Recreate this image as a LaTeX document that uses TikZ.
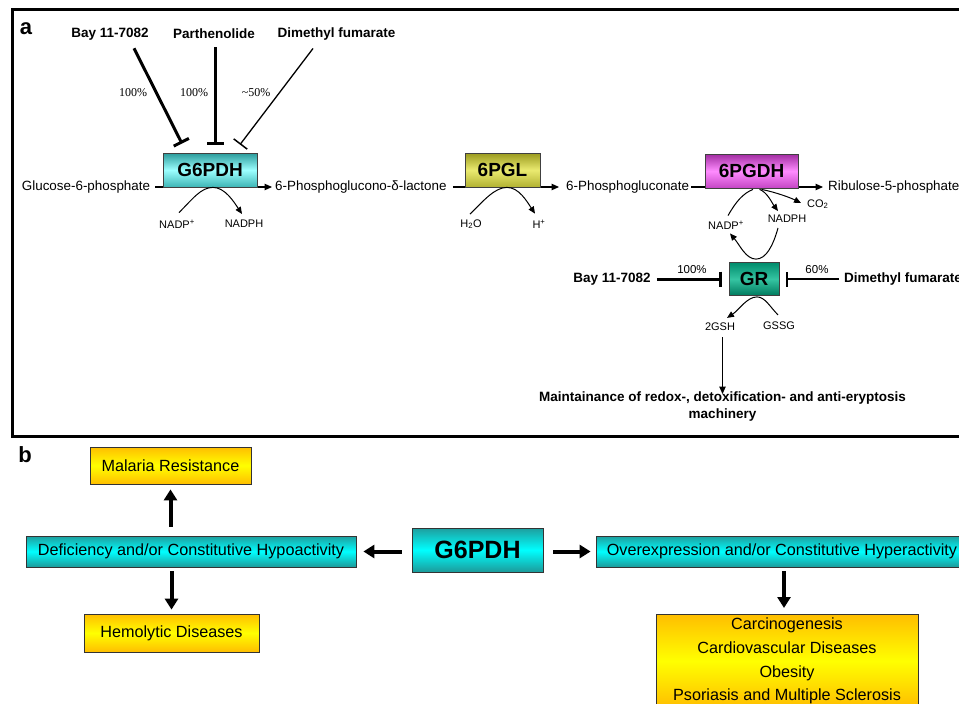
\documentclass[tikz,border=0pt]{standalone}
\usepackage{fontspec}
\setmainfont{Liberation Sans}
\newfontfamily\pctserif{Liberation Serif}
\usetikzlibrary{arrows.meta}
\definecolor{tealA}{HTML}{2A9A9A}
\definecolor{tealB}{HTML}{9CFFFF}
\definecolor{tealC}{HTML}{3DB5B5}
\definecolor{oliveA}{HTML}{9A9A1E}
\definecolor{oliveB}{HTML}{EAEA70}
\definecolor{oliveC}{HTML}{B2B232}
\definecolor{magA}{HTML}{A02CA0}
\definecolor{magB}{HTML}{FF8CFF}
\definecolor{magC}{HTML}{C445C4}
\definecolor{grA}{HTML}{008C6C}
\definecolor{grB}{HTML}{35C4A2}
\definecolor{grC}{HTML}{007A5E}
\definecolor{cyA}{HTML}{1E9E9E}
\definecolor{cyB}{HTML}{00FFFF}
\definecolor{cyC}{HTML}{1C9A9A}
\definecolor{orA}{HTML}{FFBE00}
\definecolor{orB}{HTML}{FFFF00}
\begin{document}
\begin{tikzpicture}[x=1pt,y=1pt,
  txt/.style={font=\fontsize{13.4}{16}\selectfont, inner sep=0pt},
  smalltxt/.style={font=\fontsize{11}{13}\selectfont, inner sep=0pt},
  drug/.style={font=\fontsize{13.5}{16}\selectfont\bfseries, inner sep=0pt},
  pctlab/.style={font=\pctserif\fontsize{12}{14}\selectfont, inner sep=0pt},
  pctsans/.style={font=\fontsize{11.5}{13}\selectfont, inner sep=0pt},
  panel/.style={font=\fontsize{22}{24}\selectfont\bfseries, inner sep=0pt},
  enz/.style={draw=black!75, line width=0.8pt, inner sep=0pt, font=\fontsize{19}{22}\selectfont\bfseries},
  g6fill/.style={top color=tealA, bottom color=tealC, middle color=tealB},
  pglfill/.style={top color=oliveA, bottom color=oliveC, middle color=oliveB},
  pgdhfill/.style={top color=magA, bottom color=magC, middle color=magB},
  grfill/.style={top color=grA, bottom color=grC, middle color=grB},
  cybox/.style={draw=black!80, line width=0.8pt, inner sep=0pt, top color=cyA, bottom color=cyC, middle color=cyB, font=\fontsize{16.2}{19}\selectfont},
  ybox/.style={draw=black!80, line width=0.8pt, inner sep=0pt, top color=orA, bottom color=orA, middle color=orB, font=\fontsize{16.2}{19}\selectfont},
  arr/.style={line width=1.1pt, -{Triangle[length=7.5pt,width=6.5pt]}},
  carr/.style={line width=1pt, -{Triangle[length=7pt,width=6pt]}},
  curv/.style={line width=1pt},
  inhthick/.style={line width=3pt, -{Bar[width=17pt,line width=3pt]}},
  inhthin/.style={line width=1.3pt, -{Bar[width=17pt,line width=1.5pt]}},
  bigarr/.style={line width=4pt, -{Triangle[length=11pt,width=13pt]}}
]
\useasboundingbox (0,0) rectangle (959,-704);
\fill[white] (0,0) rectangle (959,-704);

% ---------------- panel a ----------------
\draw[line width=3pt] (12,-9.5) rectangle (1000,-436);
\node[panel] (la) at (26,-29) {a};

\node[drug] (bay1) at (110,-34) {Bay 11-7082};
\node[drug] (parth) at (214,-34) {Parthenolide};
\node[drug] (dmf1) at (336.5,-34) {Dimethyl fumarate};

\node[enz, g6fill, minimum width=94pt, minimum height=34pt] (g6pdh) at (210,-170) {G6PDH};

\draw[inhthick] ([shift={(24,-8)}]bay1.south) -- ([shift={(-28,9)}]g6pdh.north);
\draw[inhthick] ([shift={(1,-8)}]parth.south) -- ([shift={(5,8)}]g6pdh.north);
\draw[inhthin] ([shift={(-23.5,-8)}]dmf1.south) -- ([shift={(30,8)}]g6pdh.north);

\node[pctlab] (p1) at (133,-93) {100\%};
\node[pctlab] (p2) at (194,-93) {100\%};
\node[pctlab] (p3) at (256,-93) {\textasciitilde50\%};

\node[txt] (g6p) at (86,-187) {Glucose-6-phosphate};
\node[txt, anchor=west] (pgl) at (275,-187) {6-Phosphoglucono-δ-lactone};
\node[enz, pglfill, minimum width=75pt, minimum height=34pt] (pglenz) at (502.5,-170) {6PGL};
\node[txt, anchor=west] (pgc) at (566,-187) {6-Phosphogluconate};
\node[enz, pgdhfill, minimum width=93pt, minimum height=34pt] (pgdh) at (751.5,-171) {6PGDH};
\node[txt, anchor=west] (rib) at (828,-187) {Ribulose-5-phosphate};

\draw[arr, shorten <=5pt, shorten >=3pt] (g6p.east) -- (pgl.west);
\draw[arr, shorten <=6pt, shorten >=7pt] (pgl.east) -- (pgc.west);
\draw[arr, shorten <=2pt, shorten >=5pt] (pgc.east) -- (rib.west);
\node[enz, g6fill, minimum width=94pt, minimum height=34pt] at (g6pdh) {G6PDH};
\node[enz, pglfill, minimum width=75pt, minimum height=34pt] at (pglenz) {6PGL};
\node[enz, pgdhfill, minimum width=93pt, minimum height=34pt] at (pgdh) {6PGDH};

% G6PDH cofactors
\node[smalltxt] (nadp1) at (177,-224) {NADP\textsuperscript{+}};
\node[smalltxt] (nadph1) at (244,-224) {NADPH};
\draw[carr] ([shift={(2,7)}]nadp1.north) .. controls +(14,14) and +(-12,0) .. ([xshift=3pt]g6pdh.south)
  .. controls +(12,0) and +(-8,12) .. ([shift={(-2,6)}]nadph1.north);

% 6PGL cofactors
\node[smalltxt] (h2o) at (471,-224) {H\textsubscript{2}O};
\node[smalltxt] (hplus) at (539,-224) {H\textsuperscript{+}};
\draw[carr] ([shift={(-1,5)}]h2o.north) .. controls +(14,14) and +(-12,0) .. ([xshift=4.5pt]pglenz.south)
  .. controls +(12,0) and +(-8,12) .. ([shift={(-4,6)}]hplus.north);

% 6PGDH cofactors
\node[smalltxt] (nadp2) at (726,-225) {NADP\textsuperscript{+}};
\node[smalltxt] (nadph2) at (787,-219) {NADPH};
\node[smalltxt, anchor=west] (co2) at (807,-204) {CO\textsubscript{2}};
\draw[curv] ([shift={(2,5)}]nadp2.north) .. controls +(8,14) and +(-10,-4) .. ([shift={(1.5,-1)}]pgdh.south);
\draw[carr] ([shift={(8,-1)}]pgdh.south) .. controls +(8,-3) and +(-6,8) .. ([shift={(-9,4)}]nadph2.north);
\draw[carr] ([shift={(10,-1)}]pgdh.south) .. controls +(15,-3) and +(-10,5) .. ([shift={(-6,1)}]co2.west);

% GR
\node[enz, grfill, minimum width=50pt, minimum height=33pt] (gr) at (754,-279) {GR};
\draw[carr] ([shift={(-9,-5)}]nadph2.south) .. controls +(-5,-18) and +(10,0) .. ([shift={(2,3)}]gr.north)
  .. controls +(-10,0) and +(10,-12) .. ([shift={(4,-4)}]nadp2.south);

\node[drug] (bay2) at (612,-279) {Bay 11-7082};
\node[drug, anchor=west] (dmf2) at (844,-279) {Dimethyl fumarate};
\draw[line width=3pt, -{Bar[width=15pt,line width=3pt]}, shorten <=6pt, shorten >=7pt] (bay2.east) -- (gr.west);
\draw[line width=1.3pt, -{Bar[width=15pt,line width=1.5pt]}, shorten <=5pt, shorten >=7pt] (dmf2.west) -- (gr.east);
\node[pctsans] (p4) at (692,-270) {100\%};
\node[pctsans] (p5) at (817,-270) {60\%};

\node[smalltxt] (gsh) at (720,-327) {2GSH};
\node[smalltxt] (gssg) at (779,-326) {GSSG};
\draw[carr] ([shift={(-1,7)}]gssg.north) .. controls +(-8,8) and +(8,0) .. ([shift={(3,-1)}]gr.south)
  .. controls +(-10,0) and +(12,8) .. ([shift={(7,5)}]gsh.north);

\node[font=\fontsize{13.5}{17}\selectfont\bfseries, inner sep=0pt, align=center, anchor=north] (maint) at (722.5,-392)
  {Maintainance of redox-, detoxification- and anti-eryptosis\\machinery};
\draw[arr, line width=1pt, shorten >=4pt] ([shift={(2.5,-6)}]gsh.south) -- ([shift={(2.5,-6)}]gsh.south |- maint.north);

% ---------------- panel b ----------------
\node[panel] (lb) at (25,-455) {b};

\node[ybox, minimum width=161pt, minimum height=37pt] (mal) at (170.5,-465.5) {Malaria Resistance};
\node[cybox, minimum width=330pt, minimum height=31pt] (def) at (191,-551.5) {Deficiency and/or Constitutive Hypoactivity};
\node[ybox, minimum width=175pt, minimum height=38pt] (hem) at (171.5,-633) {Hemolytic Diseases};
\node[cybox, minimum width=131pt, minimum height=44pt, font=\fontsize{25}{28}\selectfont\bfseries] (g6b) at (477.5,-550) {G6PDH};
\node[cybox, minimum width=372pt, minimum height=31pt] (over) at (782,-551.5) {Overexpression and/or Constitutive Hyperactivity};
\node[ybox, minimum width=262pt, anchor=north, align=center, inner ysep=3.5pt, font=\fontsize{16.2}{23.7}\selectfont] (dis) at (787,-614)
  {Carcinogenesis\\Cardiovascular Diseases\\Obesity\\Psoriasis and Multiple Sclerosis};

\draw[bigarr, shorten <=9pt, shorten >=5pt] (mal.south |- def.north) -- (mal.south);
\draw[bigarr, shorten <=4pt, shorten >=4pt] (hem.north |- def.south) -- (hem.north);
\draw[bigarr, shorten <=10pt, shorten >=7pt] (g6b.west |- def.east) -- (def.east);
\draw[bigarr, shorten <=10pt, shorten >=5pt] (g6b.east |- over.west) -- (over.west);
\draw[bigarr, shorten <=4pt, shorten >=6pt] ([xshift=-3pt]dis.north |- over.south) -- ([xshift=-3pt]dis.north);
\end{tikzpicture}
\end{document}
